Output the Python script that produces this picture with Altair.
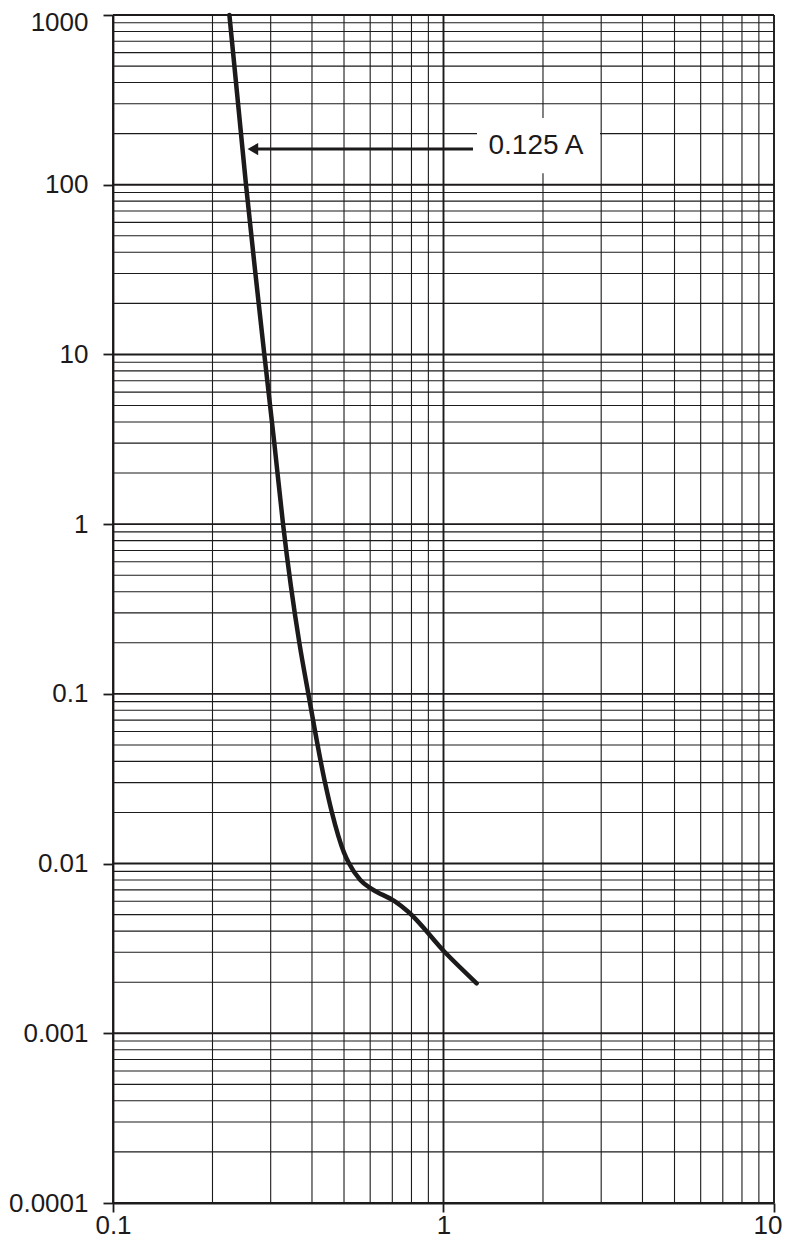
import altair as alt
import pandas as pd

# Curve: current (A) vs time (s) for the 0.125 A fuse
current = [0.225, 0.2526, 0.269, 0.287, 0.3077, 0.327, 0.3663, 0.390,
           0.438, 0.459, 0.500, 0.518, 0.560, 0.606, 0.711, 0.782, 1.01, 1.26]
time_s = [1000, 100, 31.4, 10, 3.0, 1.0, 0.2, 0.1,
          0.030, 0.0202, 0.0116, 0.0100, 0.0080, 0.0071, 0.0060, 0.0052, 0.0030, 0.00197]

x_ticks = [0.1, 1, 10]
y_ticks = [1000, 100, 10, 1, 0.1, 0.01, 0.001, 0.0001]

x_grid_minor = [k * 10.0 ** d for d in (-1, 0) for k in range(2, 10)]
x_grid_major = [0.1, 1, 10]
y_grid_minor = [k * 10.0 ** d for d in range(-4, 3) for k in range(2, 10)]
y_grid_major = [0.0001, 0.001, 0.01, 0.1, 1, 10, 100, 1000]

# annotation (data coordinates)
ann_label = ["0.125 A"]
ann_text_x = [1.905]
ann_text_y = [169]
ann_box_x = [1.263]
ann_box_x2 = [2.975]
ann_box_y = [247]
ann_box_y2 = [117]
arrow_x = [0.268]
arrow_x2 = [1.228]
arrow_y = [162.3]
arrow_head_x = [0.265]

INK = "#1c1a1b"
FONT = "Liberation Sans"

xs = alt.Scale(type="log", domain=[0.1, 10], nice=False)
ys = alt.Scale(type="log", domain=[0.0001, 1000], nice=False)

xaxis = alt.Axis(values=x_ticks, format="~g", grid=False, tickSize=9, tickWidth=1.8,
                 tickColor=INK, domainColor=INK, domainWidth=1.8, title=None,
                 labelFont=FONT, labelFontSize=26, labelColor=INK, labelPadding=0,
                 labelFlush=False, labelOverlap=False,
                 labelAlign={"condition": {"test": "datum.value >= 10", "value": "right"}, "value": "center"},
                 labelOffset={"condition": {"test": "datum.value >= 10", "value": 8}, "value": 0})
yaxis = alt.Axis(values=y_ticks, format="~g", grid=False, tickSize=10, tickWidth=1.8,
                 tickColor=INK, domainColor=INK, domainWidth=1.8, title=None,
                 labelFont=FONT, labelFontSize=26, labelColor=INK, labelPadding=15,
                 labelFlush=False, labelOverlap=False,
                 labelOffset={"condition": {"test": "datum.value >= 1000", "value": 7}, "value": 0})


def X(f):
    return alt.X(f, scale=xs, axis=xaxis, title=None)


def Y(f):
    return alt.Y(f, scale=ys, axis=yaxis, title=None)


curve_df = pd.DataFrame({"I": current, "t": time_s})

xgm = alt.Chart(pd.DataFrame({"v": x_grid_minor})).mark_rule(color=INK, strokeWidth=1.1).encode(x=X("v:Q"))
ygm = alt.Chart(pd.DataFrame({"v": y_grid_minor})).mark_rule(color=INK, strokeWidth=1.1).encode(y=Y("v:Q"))
xgM = alt.Chart(pd.DataFrame({"v": x_grid_major})).mark_rule(color=INK, strokeWidth=1.9).encode(x=X("v:Q"))
ygM = alt.Chart(pd.DataFrame({"v": y_grid_major})).mark_rule(color=INK, strokeWidth=1.9).encode(y=Y("v:Q"))

box = alt.Chart(pd.DataFrame({"x": ann_box_x, "x2": ann_box_x2, "y": ann_box_y, "y2": ann_box_y2})).mark_rect(
    fill="white").encode(x=X("x:Q"), x2="x2:Q", y=Y("y:Q"), y2="y2:Q")

line = alt.Chart(curve_df).mark_line(interpolate="monotone", color=INK, strokeWidth=4.5,
                                     strokeCap="round", strokeJoin="round").encode(
    x=X("I:Q"), y=Y("t:Q"), order=alt.Order("I:Q"))

arrow = alt.Chart(pd.DataFrame({"x": arrow_x, "x2": arrow_x2, "y": arrow_y})).mark_rule(
    color=INK, strokeWidth=3).encode(x=X("x:Q"), x2="x2:Q", y=Y("y:Q"))

head = alt.Chart(pd.DataFrame({"x": arrow_head_x, "y": arrow_y})).mark_point(
    shape="triangle-left", filled=True, color=INK, opacity=1, size=150, strokeWidth=0).encode(
    x=X("x:Q"), y=Y("y:Q"))

text = alt.Chart(pd.DataFrame({"x": ann_text_x, "y": ann_text_y, "label": ann_label})).mark_text(
    font=FONT, fontSize=28, color=INK, align="center", baseline="middle").encode(
    x=X("x:Q"), y=Y("y:Q"), text="label:N")

chart = alt.layer(xgm, ygm, xgM, ygM, box, line, arrow, head, text).properties(
    width=661, height=1188,
    autosize=alt.AutoSizeParams(type="none"),
    padding={"left": 105, "top": 7, "right": 8, "bottom": 35},
).configure_view(stroke=None).configure(background="white")

chart.save("out.html", embed_options={"renderer": "svg", "actions": False})
